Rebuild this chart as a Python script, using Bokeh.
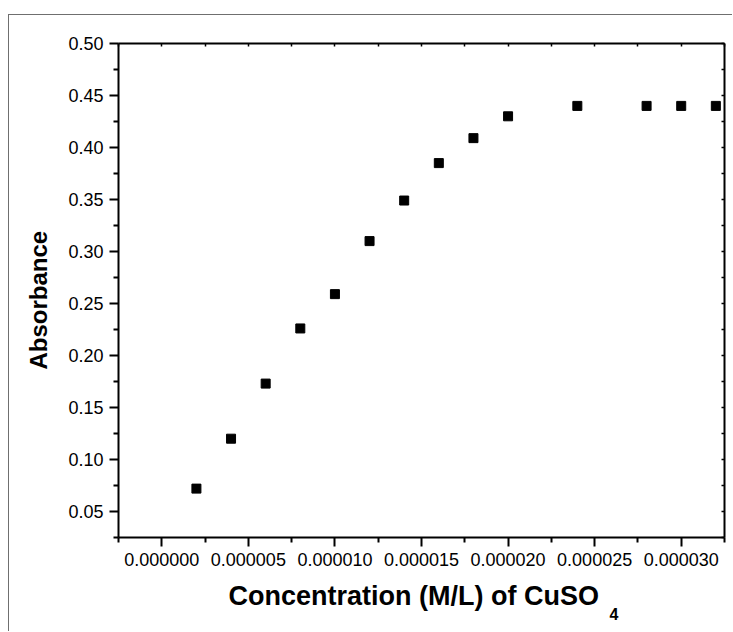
from bokeh.plotting import figure
from bokeh.models import LinearAxis, FixedTicker, PrintfTickFormatter, Range1d, Title
from bokeh.embed import file_html
from bokeh.resources import INLINE

# Data
conc = [2e-6, 4e-6, 6e-6, 8e-6, 10e-6, 12e-6, 14e-6, 16e-6, 18e-6, 20e-6, 24e-6, 28e-6, 30e-6, 32e-6]
absorbance = [0.072, 0.120, 0.173, 0.226, 0.259, 0.310, 0.349, 0.385, 0.409, 0.430, 0.440, 0.440, 0.440, 0.440]

x_major = [0.0, 5e-6, 10e-6, 15e-6, 20e-6, 25e-6, 30e-6]
x_minor = [-2.5e-6, 2.5e-6, 7.5e-6, 12.5e-6, 17.5e-6, 22.5e-6, 27.5e-6, 32.5e-6]
y_major = [0.05, 0.10, 0.15, 0.20, 0.25, 0.30, 0.35, 0.40, 0.45, 0.50]
y_minor = [0.025, 0.075, 0.125, 0.175, 0.225, 0.275, 0.325, 0.375, 0.425, 0.475]

x_label_main = "Concentration (M/L) of CuSO"
x_label_sub = "4"
y_label = "Absorbance"

FONT = "Liberation Sans"

p = figure(width=724, height=617, output_backend="svg", toolbar_location=None,
           x_range=Range1d(-2.5e-6, 32.5e-6), y_range=Range1d(0.025, 0.50),
           x_axis_location=None, y_axis_location=None,
           min_border_left=109, min_border_right=9, min_border_top=28, min_border_bottom=95)
p.styles = {"margin-left": "8px", "margin-top": "14px",
            "border-left": "1px solid #6f6f6f", "border-top": "1px solid #6f6f6f"}
p.background_fill_color = "white"
p.border_fill_color = "white"
p.outline_line_color = None
p.xgrid.visible = False
p.ygrid.visible = False

xt = FixedTicker(ticks=x_major, minor_ticks=x_minor)
yt = FixedTicker(ticks=y_major, minor_ticks=y_minor)


def style_main(ax, standoff):
    ax.axis_line_width = 2
    ax.axis_line_color = "black"
    ax.major_tick_line_width = 2
    ax.minor_tick_line_width = 2
    ax.major_tick_out = 9
    ax.major_tick_in = 0
    ax.minor_tick_out = 5
    ax.minor_tick_in = 0
    ax.major_label_text_font = FONT
    ax.major_label_text_font_size = "18px"
    ax.major_label_text_color = "black"
    ax.major_label_standoff = standoff


def style_mirror(ax):
    ax.axis_line_width = 2
    ax.axis_line_color = "black"
    ax.major_tick_line_width = 1.5
    ax.minor_tick_line_width = 1.5
    ax.major_tick_out = 0
    ax.major_tick_in = 3
    ax.minor_tick_out = 0
    ax.minor_tick_in = 3
    ax.major_label_text_font_size = "0px"
    ax.major_label_standoff = 0
    ax.major_label_text_alpha = 0


xb = LinearAxis(ticker=xt, formatter=PrintfTickFormatter(format="%.6f"))
style_main(xb, 6)
p.add_layout(xb, "below")

yl = LinearAxis(ticker=yt, formatter=PrintfTickFormatter(format="%.2f"))
style_main(yl, 6)
p.add_layout(yl, "left")

xtop = LinearAxis(ticker=xt)
style_mirror(xtop)
p.add_layout(xtop, "above")

yr = LinearAxis(ticker=yt)
style_mirror(yr)
p.add_layout(yr, "right")

# Axis titles as Title annotations (not clipped to the frame)
t_x = Title(text=x_label_main, align="left", offset=110, standoff=20,
            text_font=FONT, text_font_style="bold", text_font_size="27px",
            text_color="black")
p.add_layout(t_x, "below")
t_sub = Title(text=x_label_sub, align="left", offset=491, standoff=-26,
              vertical_align="top",
              text_font=FONT, text_font_style="bold", text_font_size="16px",
              text_color="black")
p.add_layout(t_sub, "below")
t_y = Title(text=y_label, align="left", offset=168, standoff=27,
            text_font=FONT, text_font_style="bold", text_font_size="24px",
            text_color="black")
p.add_layout(t_y, "left")

p.scatter(conc, absorbance, marker="square", size=9, fill_color="black", line_color="black")

open("out.html", "w").write(file_html(p, INLINE))
